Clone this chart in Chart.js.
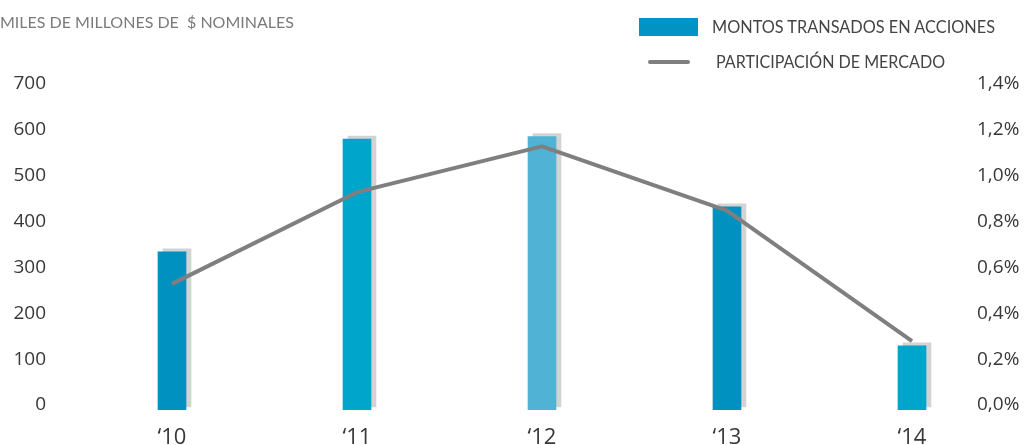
<!DOCTYPE html>
<html lang="es">
<head>
<meta charset="utf-8">
<title>Montos transados en acciones</title>
<script src="https://cdn.jsdelivr.net/npm/chart.js"></script>
<style>
  body { margin: 0; background: #fff; }
  .wrap { position: relative; width: 1024px; height: 445px; overflow: hidden; }
  .txt { position: absolute; white-space: pre; font-family: Lato, "Open Sans", sans-serif; line-height: 1; transform-origin: left center; }
  #subtitle { left: 0; top: 14px; font-size: 16px; color: #7a7a7a; font-weight: 400; }
  .leg-text { font-size: 17px; color: #444; }
  #legMontos { left: 712px; top: 18px; }
  #legPart { left: 716px; top: 53px; }
  #swatchBar { position: absolute; left: 639px; top: 18px; width: 59px; height: 18px; background: #0094c4; }
  #swatchLine { position: absolute; left: 648px; top: 60px; width: 42px; height: 4px; background: #7f7f7f; border-radius: 2px; }
</style>
</head>
<body>
<div class="wrap">
    <canvas id="chart" width="1024" height="445"></canvas>
    <div id="subtitle" class="txt" data-w="294">MILES DE MILLONES DE  $ NOMINALES</div>
    <div id="swatchBar"></div>
    <div id="legMontos" class="txt leg-text" data-w="283">MONTOS TRANSADOS EN ACCIONES</div>
    <div id="swatchLine"></div>
    <div id="legPart" class="txt leg-text" data-w="229">PARTICIPACIÓN DE MERCADO</div>
</div>

<script>
    // años y valores
    const years = ['‘10', '‘11', '‘12', '‘13', '‘14'];
    const montos = [345, 591, 596, 443, 140];          // miles de millones de $
    const participacion = [0.55, 0.95, 1.15, 0.87, 0.30]; // %
    const barColors = ['#0091c0', '#00a5cc', '#50b2d4', '#0091c0', '#00a5cc'];

    // sombra gris desplazada detrás de cada barra
    const barShadow = {
        id: 'barShadow',
        beforeDatasetDraw(chart, args) {
            if (args.meta.type !== 'bar') return;
            const ctx = chart.ctx;
            ctx.save();
            ctx.shadowColor = '#d3d3d3';
            ctx.shadowOffsetX = 5;
            ctx.shadowOffsetY = -3;
            ctx.shadowBlur = 0;
        },
        afterDatasetDraw(chart, args) {
            if (args.meta.type !== 'bar') return;
            chart.ctx.restore();
        }
    };

    const tickFont = { family: '"Open Sans", sans-serif', size: 19 };

    new Chart(document.getElementById('chart'), {
        type: 'bar',
        data: {
            datasets: [
                {
                    type: 'line',
                    label: 'PARTICIPACIÓN DE MERCADO',
                    data: participacion.map((v, i) => ({ x: i, y: v })),
                    yAxisID: 'y1',
                    borderColor: '#7f7f7f',
                    borderWidth: 4,
                    borderJoinStyle: 'round',
                    pointRadius: 0,
                    tension: 0,
                    order: 0
                },
                {
                    label: 'MONTOS TRANSADOS EN ACCIONES',
                    data: montos.map((v, i) => ({ x: i, y: v })),
                    yAxisID: 'y',
                    backgroundColor: barColors,
                    barThickness: 28,
                    order: 1
                }
            ]
        },
        options: {
            responsive: false,
            animation: false,
            layout: { padding: { top: 89, left: 0, right: 0, bottom: 0 } },
            plugins: {
                legend: { display: false },
                tooltip: { enabled: false }
            },
            scales: {
                x: {
                    type: 'linear',
                    offset: false,
                    min: -0.6054,
                    max: 4.3027,
                    grid: { display: false, drawTicks: false },
                    border: { display: false },
                    afterFit: s => { s.height = 35; },
                    ticks: {
                        stepSize: 1,
                        includeBounds: false,
                        autoSkip: false,
                        maxRotation: 0,
                        padding: 15,
                        color: '#383838',
                        font: { family: '"Open Sans", sans-serif', size: 22 },
                        callback: v => Number.isInteger(v) ? years[v] : null
                    }
                },
                y: {
                    position: 'left',
                    min: 0,
                    max: 700,
                    grid: { display: false, drawTicks: false },
                    border: { display: false },
                    afterFit: s => { s.width = 60; },
                    ticks: {
                        stepSize: 100,
                        padding: 14,
                        labelOffset: -5,
                        color: '#383838',
                        font: tickFont
                    }
                },
                y1: {
                    position: 'right',
                    min: 0,
                    max: 1.4,
                    grid: { display: false, drawTicks: false },
                    border: { display: false },
                    afterFit: s => { s.width = 56; },
                    ticks: {
                        stepSize: 0.2,
                        padding: 9,
                        labelOffset: -5,
                        color: '#383838',
                        font: tickFont,
                        callback: v => v.toFixed(1).replace('.', ',') + '%'
                    }
                }
            }
        },
        plugins: [barShadow]
    });

    // ajusta el ancho de los textos de la leyenda
    function fitText() {
        document.querySelectorAll('[data-w]').forEach(el => {
            el.style.transform = 'none';
            const w = el.getBoundingClientRect().width;
            el.style.transform = 'scaleX(' + (parseFloat(el.dataset.w) / w) + ')';
        });
    }
    fitText();
    if (document.fonts) document.fonts.ready.then(fitText);
</script>
</body>
</html>
